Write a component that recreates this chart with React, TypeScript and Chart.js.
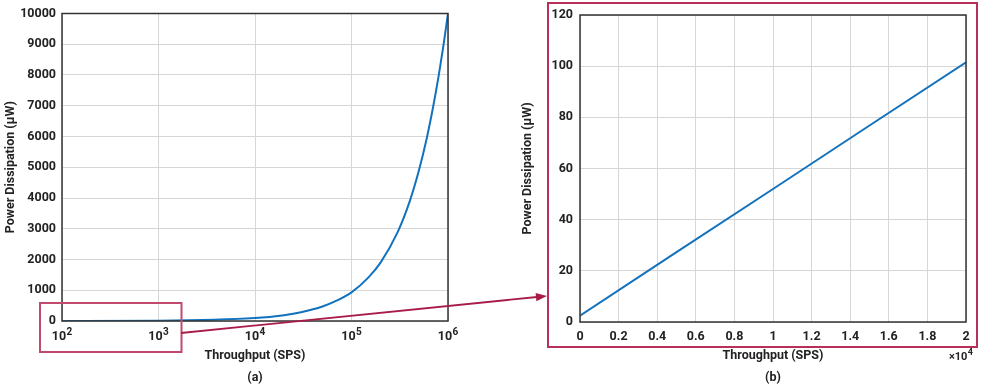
import React, { useEffect, useRef } from 'react';
import { Chart, registerables } from 'chart.js';
Chart.register(...registerables);

// ---- data (a): log throughput vs power ----
const throughputA = [100, 1000, 10000, 20000, 30000, 50000, 70000, 100000, 150000, 200000, 300000, 400000, 500000, 600000, 700000, 800000, 900000, 1000000];
const powerA = [1, 10, 95, 190, 285, 470, 660, 930, 1420, 1900, 2880, 3880, 4900, 5920, 6950, 7970, 8990, 10000];
const decadeTicks = [100, 1000, 10000, 100000, 1000000];
const decadeExponents = ['2', '3', '4', '5', '6'];

// ---- data (b): linear throughput vs power ----
const throughputB = [0, 5000, 10000, 15000, 20000];
const powerB = [2.5, 27.3, 52.0, 76.8, 101.5];

const FONT = 'Roboto, "Liberation Sans", sans-serif';
const TEXT = '#222';
const GRID = '#d6d6d6';
const LINE = '#1272bd';
const RED = '#b8305a';

const tickFont = { family: FONT, size: 12.5, weight: 'bold' as const };
const titleFont = { family: FONT, size: 12.5, weight: 'bold' as const };

const frame = {
  id: 'frame',
  afterDatasetsDraw(chart: any) {
    const { ctx, chartArea: a } = chart;
    ctx.save();
    ctx.strokeStyle = '#333';
    ctx.lineWidth = 1.5;
    ctx.strokeRect(a.left, a.top, a.right - a.left, a.bottom - a.top);
    ctx.restore();
  },
};

function drawPower(ctx: CanvasRenderingContext2D, base: string, exp: string, cx: number, cy: number, size: number, align: 'center' | 'right') {
  ctx.font = `bold ${size}px ${FONT}`;
  const wb = ctx.measureText(base).width;
  ctx.font = `bold ${Math.round(size * 0.78)}px ${FONT}`;
  const we = ctx.measureText(exp).width;
  const total = wb + we + 0.5;
  const left = align === 'center' ? cx - total / 2 : cx - total;
  ctx.textAlign = 'left';
  ctx.textBaseline = 'middle';
  ctx.font = `bold ${size}px ${FONT}`;
  ctx.fillText(base, left, cy);
  ctx.font = `bold ${Math.round(size * 0.78)}px ${FONT}`;
  ctx.fillText(exp, left + wb + 0.5, cy - size * 0.38);
}

export default function App() {
  const refA = useRef<HTMLCanvasElement>(null);
  const refB = useRef<HTMLCanvasElement>(null);

  useEffect(() => {
    document.body.style.margin = '0';
    const zoomBox = {
      id: 'zoomBox',
      afterDraw(chart: any) {
        const { ctx } = chart;
        const xs = chart.scales.x, ys = chart.scales.y;
        ctx.save();
        ctx.fillStyle = TEXT;
        decadeTicks.forEach((v, i) => {
          drawPower(ctx, '10', decadeExponents[i], xs.getPixelForValue(v), ys.getPixelForValue(0) + 16, 12.5, 'center');
        });
        const l = xs.getPixelForValue(100) - 22;
        const r = xs.getPixelForValue(1000) + 23;
        const t = ys.getPixelForValue(0) - 18;
        const b = ys.getPixelForValue(0) + 31;
        ctx.strokeStyle = '#c04a6c';
        ctx.lineWidth = 2;
        ctx.strokeRect(l, t, r - l, b - t);
        ctx.restore();
      },
    };
    const chartA = new Chart(refA.current!, {
      type: 'line',
      data: {
        datasets: [{
          data: throughputA.map((x, i) => ({ x, y: powerA[i] })),
          borderColor: LINE,
          borderWidth: 2,
          pointRadius: 0,
          cubicInterpolationMode: 'monotone',
          fill: false,
        }],
      },
      options: {
        animation: false,
        responsive: false,
        layout: { padding: { top: 13, right: 22, left: 0, bottom: 0 } },
        plugins: { legend: { display: false }, tooltip: { enabled: false } },
        scales: {
          x: {
            type: 'logarithmic', min: 100, max: 1000000,
            afterBuildTicks: (s: any) => { s.ticks = decadeTicks.map((v) => ({ value: v })); },
            afterFit: (s: any) => { s.height = 66; },
            ticks: {
              callback: () => '',
              font: tickFont, color: TEXT, padding: 7, maxRotation: 0, autoSkip: false,
            },
            grid: { color: GRID, lineWidth: 1, drawTicks: false },
            border: { display: false },
            title: { display: true, text: ['Throughput (SPS)', '(a)'], font: { ...titleFont, lineHeight: '22px' }, color: TEXT, padding: { top: 5, bottom: -2 } },
          },
          y: {
            min: 0, max: 10000,
            afterFit: (s: any) => { s.width = 62; },
            ticks: { stepSize: 1000, font: tickFont, color: TEXT, padding: 6, callback: (v: any) => String(v) },
            grid: { color: GRID, lineWidth: 1, drawTicks: false },
            border: { display: false },
            title: { display: true, text: 'Power Dissipation (µW)', font: titleFont, color: TEXT, padding: { top: 3, bottom: 0 } },
          },
        },
      } as any,
      plugins: [frame, zoomBox],
    });

    const outline = {
      id: 'outline',
      afterDraw(chart: any) {
        const { ctx, chartArea: a } = chart;
        ctx.save();
        ctx.strokeStyle = RED;
        ctx.lineWidth = 2;
        ctx.strokeRect(a.left - 32, a.top - 12, a.right - a.left + 43, a.bottom - a.top + 37);
        ctx.fillStyle = TEXT;
        drawPower(ctx, '×10', '4', a.right + 7, a.bottom + 35, 11, 'right');
        ctx.restore();
      },
    };
    const chartB = new Chart(refB.current!, {
      type: 'line',
      data: {
        datasets: [{
          data: throughputB.map((x, i) => ({ x, y: powerB[i] })),
          borderColor: LINE,
          borderWidth: 2,
          pointRadius: 0,
          fill: false,
        }],
      },
      options: {
        animation: false,
        responsive: false,
        layout: { padding: { top: 15, right: 16, left: 0, bottom: 0 } },
        plugins: { legend: { display: false }, tooltip: { enabled: false } },
        scales: {
          x: {
            type: 'linear', min: 0, max: 20000,
            afterFit: (s: any) => { s.height = 65; },
            ticks: {
              stepSize: 2000,
              callback: (v: any) => String(+(Number(v) / 10000).toFixed(1)),
              font: tickFont, color: TEXT, padding: 7, maxRotation: 0, autoSkip: false,
            },
            grid: { color: GRID, lineWidth: 1, drawTicks: false },
            border: { display: false },
            title: { display: true, text: ['Throughput (SPS)', '(b)'], font: { ...titleFont, lineHeight: '22px' }, color: TEXT, padding: { top: 5, bottom: -2 } },
          },
          y: {
            min: 0, max: 120,
            afterFit: (s: any) => { s.width = 80; },
            ticks: { stepSize: 20, font: tickFont, color: TEXT, padding: 7 },
            grid: { color: GRID, lineWidth: 1, drawTicks: false },
            border: { display: false },
            title: { display: true, text: 'Power Dissipation (µW)', font: titleFont, color: TEXT, padding: { top: 20, bottom: 0 } },
          },
        },
      } as any,
      plugins: [frame, outline],
    });
    return () => { chartA.destroy(); chartB.destroy(); };
  }, []);

  return (
    <div style={{ position: 'relative', width: 982, height: 387, background: '#fff', overflow: 'hidden' }}>
      <canvas ref={refA} width={470} height={387} style={{ position: 'absolute', left: 0, top: 0, width: 470, height: 387 }} />
      <canvas ref={refB} width={482} height={387} style={{ position: 'absolute', left: 500, top: 0, width: 482, height: 387 }} />
      <svg width={982} height={387} style={{ position: 'absolute', left: 0, top: 0, pointerEvents: 'none' }}>
        <line x1={181} y1={333} x2={537} y2={297} stroke="#a81c48" strokeWidth={1.8} />
        <polygon points="547,296 536.4,301.2 535.6,293" fill="#a81c48" />
      </svg>
    </div>
  );
}
